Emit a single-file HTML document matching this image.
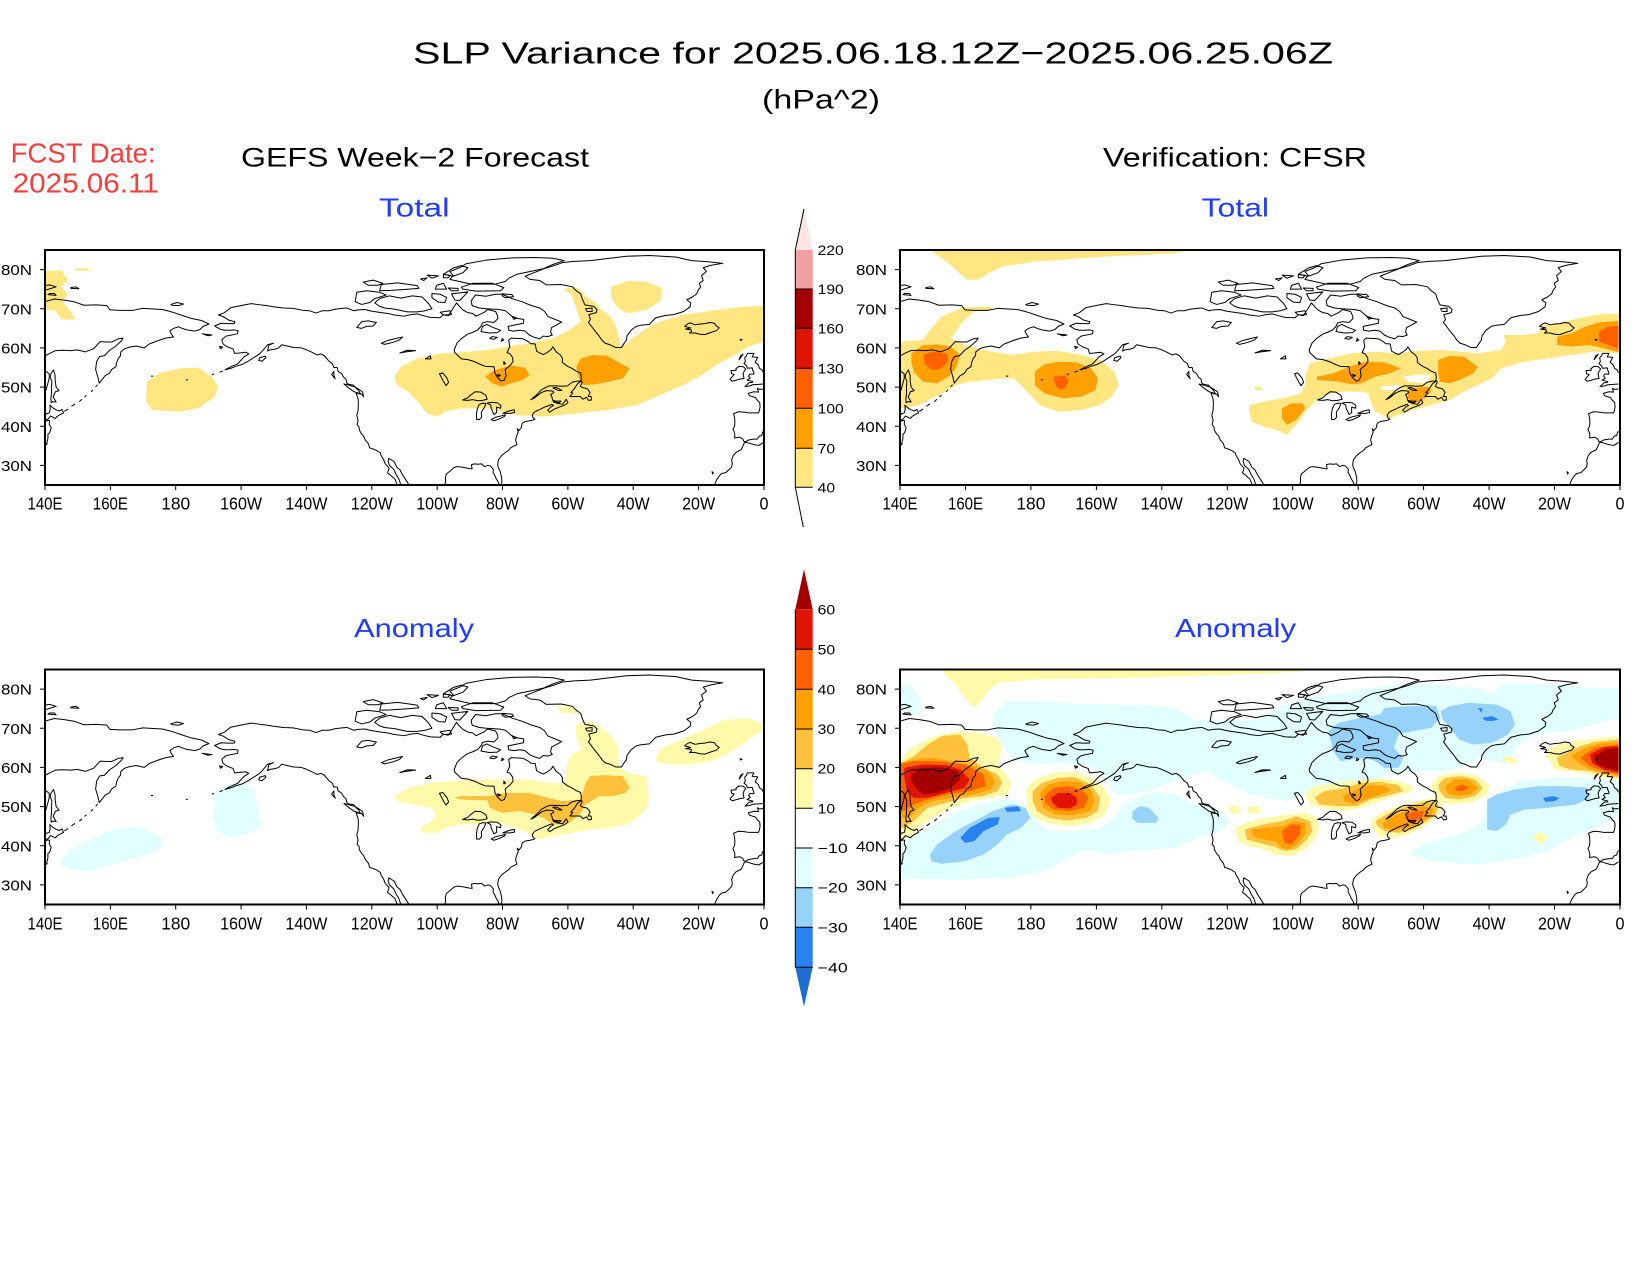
<!DOCTYPE html>
<html><head><meta charset="utf-8"><style>
html,body{margin:0;padding:0;background:#fff;}
svg{display:block;}
text{font-family:"Liberation Sans",sans-serif;}
</style></head><body>
<svg width="1650" height="1275" viewBox="0 0 1650 1275" xmlns="http://www.w3.org/2000/svg">
<defs>
<clipPath id="mc"><rect x="10" y="15" width="1542" height="705"/></clipPath>
<g id="coast" transform="translate(10,15) scale(7.009,-11.75) translate(-140,-85)" fill="none" stroke="#000" stroke-width="1" stroke-linejoin="round">
<path vector-effect="non-scaling-stroke" d="M140,71.8 L143,72.5 146,72.2 149,71.8 152,70.9 156,71 159,70.8 160,69.7 163,69.6 167,69.6 170,70.1 174,69.9 176,69.8 178,69.4 180,68.9 182,68.3 185,67.5 188,67 190.3,66.1 188.5,65.5 187.5,64.7 186,64.3 183.5,64.6 182,65 181,65.4 179.5,65 178.3,64.3 178.8,63.5 179.4,62.8 177,62.5 174.5,61.8 172,61 170.5,60 168,60.5 166,60.2 164.5,59.8 163.3,59 163.2,58 162.5,57.3 162,56.2 161.8,55.2 160.5,54.5 159.8,53.5 158.5,52.9 156.7,51 156.3,52.5 155.6,54.5 155.9,56.5 156.8,57.8 158.3,58 160,59.5 161.5,60.3 163.5,61.8 164,62.5 162.5,62.3 160.5,61.5 159,61.5 157,61.6 155,59.8 152.5,59 150,59.5 148,59.3 145.5,59.4 143.3,59.3 141.5,58.6 140,57.9"/>
<path vector-effect="non-scaling-stroke" d="M140,48.4 L140.5,49.5 141,51 141.4,52.3 141.4,53.3 140.8,53.8 140,54.2"/>
<path vector-effect="non-scaling-stroke" d="M142.7,54.4 L143.2,53 143.2,51.8 143.5,50 144.4,49.1 143.3,48.8 142.6,47.5 143.5,46.2 142.5,46.3 142,46 141.9,47 142.1,48.5 142.1,50 142.2,51.5 141.7,52.5 141.9,53.4 Z"/>
<path vector-effect="non-scaling-stroke" d="M141.6,45.4 L142.5,44.7 143.5,44.2 144.5,43.9 145.3,44.3 145.8,43.4 145,43.1 143.8,42.5 143.3,42 141.8,42.6 141,41.8 140.1,41.5 140,42.3 140.5,43.2 141.4,43.4 141.7,44.3 Z"/>
<path vector-effect="non-scaling-stroke" d="M140,40.6 L140.3,41.2 140.9,41.5 141.5,41.4 141.4,40.5 142,39.6 141.5,38.3 141,38 141,37 140.9,36.5 140.6,35.7 140.8,35.5 140.1,35 140,35"/>
<path vector-effect="non-scaling-stroke" d="M146,43.8 L147.2,44.4 M148.2,45.1 L149.3,45.7 M150.6,46.3 L151.4,46.9 M152.2,47.5 L152.8,47.9 M154.2,48.8 L154.8,49.3 M155.6,50.1 L156.2,50.6 M172.5,52.8 L173.2,52.8"/>
<path vector-effect="non-scaling-stroke" d="M140,75.9 L141.5,76.1 143.5,75.6 142,75.2 140.5,74.8 140,74.9 M141,73.6 L143.5,73.4 143,73.9 141.5,73.9 Z M148,75.2 L150.5,75.1 149.5,75.6 148,75.4 Z M178.6,71.1 L180.5,71.6 182.5,71.2 181,70.8 179,70.9 Z"/>
<g transform="translate(360,0)">
<path vector-effect="non-scaling-stroke" d="M-112.1,25 L-112.8,26.5 -114.3,27.6 -115.1,28.1 -114.6,29.3 -115.8,30.4 -116.3,31.5 -117.1,32.6 -117.3,33.2 -118.4,33.8 -119.2,34.1 -120.6,34.5 -120.9,35.5 -121.9,36.5 -122.4,37.5 -123,38 -123.7,39 -123.8,39.8 -124.4,40.4 -124.1,41.5 -124.5,42.8 -124.1,44 -124,46 -124.1,47 -124.7,48.4 -123,48.2 -122.4,47.5 -122.7,48.7 -123.1,49 -124,49.5 -125,50 -125.5,50.5 -127,50.7 -127.5,51 -127.8,52 -128.5,52.5 -129.2,53.5 -130.2,54 -130.5,55 -131.5,55 -132,56 -133,56.6 -134.4,58 -135.5,58.5 -136.6,58.2 -138.5,59 -140.4,59.7 -141.5,60 -143.8,60.1 -145.8,60.5 -147.5,60.8 -148.4,60 -149.5,59.7 -151,59.5 -151.8,59.2 -151.4,60.7 -150,61.2 -151.8,60.8 -153.3,59.3 -154.2,58.5 -155.5,57.8 -157.5,56.7 -159.5,55.8 -161.5,55.3 -163,54.8 -164.8,54.4 -163,55.2 -161,55.9 -159,57.7 -157.5,58.5 -158.5,58.9 -160.5,58.7 -161.9,58.6 -162.3,59.7 -164.1,60.3 -165.4,61 -165.8,62.1 -164.5,63 -161,63.6 -160.8,64.4 -162,64.6 -163.5,64.5 -165,64.5 -166.4,64.8 -168,65.6 -166,66.3 -164,66.2 -162,66.2 -161.8,66.7 -163.7,67.1 -165.4,68 -166.8,68.4 -165,69 -163,70.3 -160,70.8 -156.8,71.3 -155,71.1 -152,70.8 -150,70.5 -147,70.2 -144,70.1 -141,69.6 -139,69.5 -137,68.9 -135,69.5 -133,69.5 -131,69.9 -129,70.1 -127.5,70.2 -125.5,69.5 -124,69.7 -122,69.8 -120,69.4 -117,69 -115,68.8 -113,68.4 -110,68.1 -108,68.5 -106,68.7 -104,68.2 -102,67.8 -99,67.7 -98,68.5 -96.5,68.2 -95.5,69.5 -94,71.5 -93,70.5 -92,69.7 -90.5,69 -89,68.8 -88,68.1 -85.5,69.1 -84.5,69.8 -82,69.3 -81.4,68.2 -81.3,67.5 -82.5,66.5 -84.5,66.7 -86,66.4 -86.5,65.5 -87.5,64.6 -89,64 -90.6,63.5 -92.3,62.5 -93.8,61.3 -94.7,59.5 -94.5,58.8 -92.5,57.2 -90.5,57 -88.5,56.5 -87,55.9 -85.2,55.3 -82.5,55.2 -82.2,53.5 -81.5,52.5 -80.3,51.5 -79.4,51.8 -78.8,52.9 -79.1,54.5 -77.5,55.6 -76.7,56.5 -76.8,57.5 -77.6,58.5 -78.5,58.8 -77.7,60.3 -78,62 -77.3,62.5 -75,62.4 -73.5,62.3 -72,61.6 -71.3,61.1 -69.9,61 -69.5,59.2 -68.5,58.7 -67.4,58.3 -66.3,58.8 -65,59.6 -64.5,60.3 -63.5,59 -62.2,58.2 -61.6,57.4 -61.6,56.3 -60,55.3 -58.7,54.8 -57.4,54.1 -56,53.6 -55.8,52.5 -55.9,51.6 -57.3,51.5 -58.7,51.2 -60,50.3 -61.8,50.2 -63.5,50.3 -65.5,50.3 -66.5,50 -68,49.3 -69.5,48 -70.5,47.3 -71.2,46.8 -70.2,47.2 -69.3,47.8 -68,48.6 -66.5,49.1 -64.5,49 -64.2,48.6 -65.2,48.1 -64.8,47.5 -64.6,46.8 -64.3,46.2 -63,45.8 -61.5,45.6 -60.4,46.9 -59.9,46 -60.9,45.4 -62.5,44.9 -64,44.4 -65.5,43.6 -66.1,44.1 -65,45 -64.3,45.3 -64.8,45.6 -66,45.2 -67,44.9 -68.5,44.3 -69.8,43.8 -70.3,43.5 -70.8,42.8 -70.6,42.2 -70,41.8 -70.5,41.6 -71.5,41.4 -72.9,41.2 -73.8,40.8 -74,40.4 -74.1,39.7 -74.9,38.9 -75.4,39.4 -75.1,38.5 -75.6,37.5 -75.9,36.5 -75.5,35.3 -76.5,34.9 -77.4,34.5 -78,33.9 -79.2,33.2 -80.3,32.4 -81.1,31.5 -81.4,30.3 -81.2,29.5 -80.6,28.4 -80.2,27 -80.1,25.8 -80.4,25.1 -81,25.2 -81.3,25.9 -81.8,26.5 -82.3,27.5 -82.8,28.2 -82.7,29 -83.7,29.9 -84.4,30 -85.4,29.7 -86.3,30.4 -87.5,30.3 -88.4,30.4 -89.4,30.2 -89.3,29.5 -89.2,29.1 -90.2,29.2 -91.3,29.4 -92.6,29.6 -93.8,29.7 -94.8,29.4 -95.9,28.6 -97.1,27.8 -97.4,26.8 -97.3,25.8 -97.6,25"/>
<path vector-effect="non-scaling-stroke" d="M-108.5,25 L-109.4,26.2 -110.5,27.6 -111.3,28.9 -112.2,29.5 -113.1,31 -114.7,31.8 -114.9,31 -114.5,30 -113.2,29 -112.4,27.6 -111.6,26.5 -111,25"/>
<path vector-effect="non-scaling-stroke" d="M-165.5,54.1 L-166.5,53.8 M-168.9,53.1 L-168.2,53.4 M-176.8,51.8 L-176.2,51.9"/>
<path vector-effect="non-scaling-stroke" d="M-59.3,47.6 L-58.4,48.5 -59,48.6 -57.9,49.6 -57,50.8 -55.8,51.6 -55.5,51.3 -56.1,50.2 -55.5,49.9 -54,49.6 -53.6,49.2 -53.1,48.6 -53.7,47.6 -52.8,47.6 -52.7,46.7 -53.6,46.6 -54.2,47.4 -55.3,46.9 -56.1,47.6 Z M-64.5,49.8 L-63.5,49.9 -62.2,49.4 -61.7,49.1 -63,49.2 Z M-64.4,46.6 L-63.5,46.4 -62,46.4 -62.5,46 -63.8,46.2 Z"/>
<path vector-effect="non-scaling-stroke" d="M-123.4,48.3 L-125.3,48.8 -127.5,50.1 -128.4,50.8 -127,50.5 -125,50 -123.9,49.1 Z M-131.5,54 L-132.2,53.2 -131.1,52.1 -131.5,53 Z M-152.5,57.9 L-154.2,57.5 -154.5,56.8 -153.5,56.6 -152.3,57.5 Z M-171.8,63.6 L-168.8,63.3 -170,63.1 Z M-166.5,60.4 L-165.5,60.2 -166.2,59.8 Z"/>
<path vector-effect="non-scaling-stroke" d="M-80,73.7 L-77,72.6 -74,71.8 -71,70.8 -68.5,70.2 -67,69.3 -66,68 -63,67 -61.8,66.6 -63.5,65.8 -64.9,65.2 -65.2,64 -64.7,63.3 -66,62.9 -67.5,63 -68.5,62.3 -70.5,62.8 -71.7,63.3 -73,64.3 -74.5,64.5 -76.5,64.3 -78,64.5 -78.2,65.5 -73.5,66.3 -73.4,67.3 -76,67.6 -77.4,68.3 -79,69.5 -81,69.8 -84.8,70 -87,70.2 -89.2,70.8 -89.5,72 -88.2,73.5 -85,73.2 -82,73.7 Z"/>
<path vector-effect="non-scaling-stroke" d="M-86.5,64.2 L-84,63.8 -81.5,63.9 -80.5,64.5 -83,65.3 -84.7,66 -86,65.5 Z M-83,62.9 L-81.5,62.7 -82.5,62.2 -83.8,62.4 Z M-80,62.4 L-79.5,62 -80.3,61.7 Z M-79.5,56.5 L-79,56 -79.5,55.8 Z M-81.5,53.2 L-80.5,53 -81,52.7 Z M-77,68.1 L-75.5,67.6 -76.5,67.3 Z"/>
<path vector-effect="non-scaling-stroke" d="M-119,71.5 L-117.5,72.6 -114.5,73.3 -111,72.7 -107.5,73.3 -104.5,73 -102.5,71.3 -101.5,70 -103.5,69.5 -106,69.2 -109,69.2 -113,69.9 -116,70.2 -117.5,70.6 Z M-125,71.8 L-124.5,74.2 -121.5,74.6 -117.5,74.2 -115.5,73.5 -119,72.6 -120.5,71.6 -123,71.1 Z"/>
<path vector-effect="non-scaling-stroke" d="M-101.5,73.9 L-99,73.7 -97,72.9 -97.5,71.6 -99.5,71.7 -101.5,72.8 Z M-95.5,73.8 L-90.5,74.3 -93,72.1 -94.5,72.2 Z M-99,69.1 L-96,69.5 -95.5,68.5 -98,68.4 Z M-80,73.8 L-77,73.6 -76.5,73.1 -79,72.8 -80,73.3 Z"/>
<path vector-effect="non-scaling-stroke" d="M-92.5,75.5 L-89,76.5 -83,76.5 -79.5,75.4 -80.5,74.6 -88,74.5 -92,75 Z M-96,77.5 L-89.5,76.3 -82,76.3 -79,77 -78,77.8 -75.5,78.8 -72.7,79.3 -67.5,80.2 -64.5,81.3 -61,82.3 -64.5,82.9 -70,83.1 -77,83 -85,82.4 -91,81.5 -93,80.5 -96,79.5 -95,78.5 Z M-98,78.8 L-95,80.4 -92.5,81 -90.5,80.5 -92,79.2 -95,78.3 Z"/>
<path vector-effect="non-scaling-stroke" d="M-117,76.2 L-112,76.6 -106,75.9 -105.5,75.2 -110,74.9 -114,74.7 -117.5,74.6 Z M-100,76 L-98,76.5 -97,75 -100.5,75 Z M-103,78.6 L-99.5,78.4 -101.5,77.8 Z M-122.5,76.8 L-119.5,77.3 -116.5,76.5 -118,76 -121,76 Z M-96.5,75.3 L-93.5,75.2 -93.5,74.6 -95.5,74.6 Z M-98,78.7 L-96,78.6 -96.5,77.9 -98,77.9 Z M-105,77.6 L-103,77.9 -104,77.2 Z"/>
<path vector-effect="non-scaling-stroke" d="M-73,78.3 L-71.5,77.5 -68.5,77.2 -66.5,76.1 -62,76.2 -58.5,75.6 -57.5,74.7 -56,73.8 -55.5,72.5 -54.7,71 -52,70.6 -51,69.8 -51.2,69 -53.5,68.5 -53,67.3 -53.6,66.5 -52.5,65.3 -51.5,64.2 -50.5,63.2 -49.5,62 -48.5,61.2 -47,60.8 -45.2,60.1 -43.5,60.1 -43,60.8 -42,62 -41.8,63.1 -40.6,64.5 -39,65.5 -37.5,65.8 -35,66 -33,67.7 -30,68.3 -27.5,68.5 -24.5,69.3 -22.5,70.5 -22.3,71.5 -23.5,72.3 -21.8,73 -20.5,73.8 -20,74.8 -19.3,75.5 -19.7,76.5 -18.5,77.2 -19,78.5 -17.5,79.5 -18.5,80.5 -16,81.1 -12.5,81.6 -17,82 -22,82.3 -27,83.2 -35,83.6 -42,83.4 -48,82.8 -53,82.3 -58,82.1 -61.5,81.8 -64.5,80.9 -67,80.3 -70,79.3 Z M-54.5,70 L-52.5,70.2 -52.5,69.3 -54,69.3 Z"/>
<path vector-effect="non-scaling-stroke" d="M-24.2,65.5 L-23.3,66.1 -22.5,66.4 -21,65.9 -19.5,66.1 -18,66.2 -16.5,66.5 -15,66.3 -14.6,65.7 -13.6,65.1 -14.5,64.4 -16,64 -18,63.4 -19.5,63.5 -21,63.8 -22.7,63.8 -22,64.3 -22.2,64.6 -23.9,64.8 -22.3,65.1 Z"/>
<path vector-effect="non-scaling-stroke" d="M0,50.8 L-1.5,50.7 -3.4,50.6 -4.2,50.3 -5.7,50.1 -4.5,51.1 -3.5,51.2 -3.3,51.4 -4.2,51.6 -5.1,51.8 -4.1,52.3 -4.6,52.8 -4.3,53.3 -3,53.3 -3,53.8 -3.3,54.2 -3.5,54.9 -5,54.8 -5.2,55.4 -6,56 -5.6,56.5 -5.8,57.5 -5.2,58 -5,58.6 -3,58.6 -3.5,57.7 -1.8,57.6 -2,57.3 -2.6,56.3 -2.1,56 -1.6,55.6 -1.3,54.8 -0.5,54.4 0,53.6"/>
<path vector-effect="non-scaling-stroke" d="M-6,52.2 L-6.3,53.4 -6,54 -5.5,54.6 -6.2,55.2 -7.5,55.3 -8.5,54.7 -8.4,54.3 -10,54.2 -9.8,53.4 -9,53.2 -9.8,52.5 -10.3,51.9 -9.6,51.5 -8.2,51.8 -7,52.1 Z M-7.5,57 L-6.3,58.4 -7,58 -7.4,57.3 Z M-7.2,62.2 L-6.6,62.1 -7,61.9 Z"/>
<path vector-effect="non-scaling-stroke" d="M0,49.5 L-1.2,49.4 -1.9,49.7 -1.6,48.7 -3,48.8 -4.7,48.4 -4.3,47.8 -2.5,47.3 -2.1,46.8 -1.2,46 -1.1,45 -1.3,44 -1.6,43.4 -3,43.4 -4.5,43.4 -6,43.6 -7.7,43.7 -9.2,43.2 -8.9,42.2 -8.8,41.2 -8.9,40 -9.4,39.3 -9.1,38.7 -8.8,37.9 -8.9,37 -7.4,37.2 -6.4,36.8 -6.1,36.2 -5.6,36 -4.6,36.5 -3,36.7 -2,36.7 -1.3,37.5 -0.6,37.6 -0.4,38.3 0,38.8"/>
<path vector-effect="non-scaling-stroke" d="M0,35.9 L-1.5,35.1 -3,35.3 -5.3,35.9 -5.9,35.8 -6.3,35 -6.9,34 -8.5,33.3 -9.3,32.5 -9.8,31.3 -9.6,30.5 -9.8,29.6 -10.5,29 -11.5,28.2 -12.9,27.9 -13.5,27.4 -14.4,26.3 -14.8,25.5 -15,25 M-15.8,28.4 L-15.4,28.1 -15.6,27.8 Z"/>
<path vector-effect="non-scaling-stroke" d="M-92.1,46.7 L-90.5,47.3 -89.6,48 -88.3,48.8 -86.5,48.7 -85,47.9 -84.6,46.9 -86,46.6 -87.5,46.5 -89,46.8 -90.5,46.6 Z M-87.8,41.7 L-87.9,43 -87.6,44.5 -87,45.6 -85.9,45.9 -85,45.8 -85.5,44.7 -86.4,43.6 -86.3,42.3 -87,41.7 Z M-84.6,45.9 L-83.5,46.1 -81.5,46 -80.4,45.3 -80.5,44.6 -81.7,44.9 -81.7,43.5 -82.5,43 -83,43.9 -83.4,44.6 -83.5,45.4 Z M-83.4,41.7 L-82,42.3 -80.5,42.6 -79,42.9 -79.3,42.5 -80.8,41.9 -82.5,41.4 Z M-79.8,43.3 L-78,43.9 -76.3,44.2 -76.2,43.5 -77.5,43.3 Z"/>
<path vector-effect="non-scaling-stroke" d="M-97.2,50.4 L-96.4,51.2 -96.9,52.3 -98.2,53.6 -99.2,53.4 -98.5,52.3 -97.8,51.2 Z M-124.5,65.2 L-123,66.7 -121,66.9 -118.5,66.5 -119.5,65.6 -121.5,65.5 -123,65 Z M-117,61.2 L-115,61.9 -113,62.3 -110.5,62.8 -111.5,62 -113.5,61.4 -116,60.9 Z M-111.3,58.7 L-109,59.4 -106.5,59.3 -109.5,59 Z M-103.5,57.2 L-102,58 -101.8,57.2 Z"/>
</g>
</g>
</defs>

<!-- Titles -->
<text x="413" y="63.3" font-size="31" textLength="920" lengthAdjust="spacingAndGlyphs" fill="#000">SLP Variance for 2025.06.18.12Z−2025.06.25.06Z</text>
<text x="762" y="108.5" font-size="27" textLength="118" lengthAdjust="spacingAndGlyphs" fill="#000">(hPa^2)</text>
<text x="10.6" y="162.7" font-size="28" textLength="145" lengthAdjust="spacingAndGlyphs" fill="#fa3c3c">FCST Date:</text>
<text x="12.7" y="192.7" font-size="28" textLength="146" lengthAdjust="spacingAndGlyphs" fill="#fa3c3c">2025.06.11</text>
<text x="241" y="166.7" font-size="27" textLength="348" lengthAdjust="spacingAndGlyphs" fill="#000">GEFS Week−2 Forecast</text>
<text x="1103" y="166.7" font-size="27" textLength="264" lengthAdjust="spacingAndGlyphs" fill="#000">Verification: CFSR</text>
<text x="379" y="216.7" font-size="26" textLength="70.5" lengthAdjust="spacingAndGlyphs" fill="#1e3cff">Total</text>
<text x="1201.5" y="216.7" font-size="26" textLength="67.5" lengthAdjust="spacingAndGlyphs" fill="#1e3cff">Total</text>
<text x="354" y="637" font-size="26" textLength="120" lengthAdjust="spacingAndGlyphs" fill="#1e3cff">Anomaly</text>
<text x="1175" y="637" font-size="26" textLength="121" lengthAdjust="spacingAndGlyphs" fill="#1e3cff">Anomaly</text>

<!-- TOP LEFT MAP -->
<g transform="translate(40,245) scale(0.46628,0.33333)">
<g clip-path="url(#mc)">
<g fill="#ffe680">
<polygon points="10,77 46,77 60,105 46,125 60,150 46,165 60,190 77,223 46,223 32,195 10,195"/>
<polygon points="75,70 105,70 105,77 75,77"/>
<polygon points="230,410 255,385 300,370 340,368 368,395 382,425 375,455 340,490 300,500 240,495 228,470 228,440"/>
<polygon points="760,395 775,365 810,340 860,325 900,322 960,315 1000,305 1050,295 1100,280 1130,260 1160,230 1150,190 1140,150 1122,132 1150,126 1162,140 1175,160 1190,170 1200,190 1220,210 1235,240 1240,270 1245,300 1255,300 1270,280 1300,250 1330,230 1380,210 1450,195 1510,185 1552,183 1552,290 1520,305 1490,330 1450,360 1420,390 1380,420 1330,450 1280,480 1220,495 1150,505 1080,515 1020,510 960,490 900,490 870,500 850,515 830,505 810,470 790,440 765,420"/>
<polygon points="1225,125 1260,108 1300,110 1335,130 1330,170 1300,195 1260,205 1240,190 1225,160"/>
</g>
<g fill="#ffa000">
<polygon points="955,395 975,375 1010,362 1040,368 1050,390 1035,405 1010,415 990,425 970,415"/>
<polygon points="1150,365 1160,340 1185,330 1215,332 1245,355 1265,370 1250,400 1220,410 1190,418 1165,420 1155,395"/>
</g>
<use href="#coast"/>
</g>
</g>

<!-- TOP RIGHT MAP -->
<g transform="translate(895,245) scale(0.46628,0.33333)">
<g clip-path="url(#mc)">
<g fill="#ffe680">
<polygon points="75,15 640,15 600,25 450,35 300,50 230,65 200,85 180,103 155,105 135,80 110,50"/>
<polygon points="10,290 60,285 75,255 100,215 145,188 205,185 210,195 170,200 145,230 120,280 150,300 190,315 250,330 300,320 350,318 400,330 440,345 470,380 480,420 465,455 440,480 400,495 350,500 310,480 290,450 270,420 255,400 230,400 200,405 160,410 130,420 110,440 80,460 50,480 20,490 10,490"/>
<polygon points="760,480 790,470 830,460 870,445 880,420 880,390 890,355 930,340 980,325 1030,320 1080,325 1120,318 1170,315 1200,318 1250,325 1300,315 1310,290 1305,270 1350,270 1380,265 1390,240 1420,235 1460,222 1500,210 1552,205 1552,325 1500,320 1450,330 1400,340 1350,350 1300,370 1280,400 1250,420 1220,440 1190,465 1150,480 1110,495 1080,510 1060,520 1030,500 1020,470 1015,445 1000,440 960,440 920,450 900,470 880,500 860,540 840,570 820,555 790,545 765,530 760,500"/>
<polygon points="772,425 785,425 785,435 772,435"/>
</g>
<g fill="#ffffff">
<polygon points="1090,395 1120,388 1150,390 1140,415 1100,410"/>
<polygon points="1040,425 1080,420 1085,435 1045,435"/>
</g>
<g fill="#ffa000">
<polygon points="35,325 60,300 90,298 120,305 140,330 130,370 115,395 90,415 60,410 40,380 35,350"/>
<polygon points="300,380 320,358 350,350 390,352 420,370 435,400 430,435 400,455 360,460 320,445 300,420"/>
<polygon points="905,395 940,385 975,365 1010,350 1050,352 1085,370 1060,385 1030,395 1000,415 980,418 950,410 905,405"/>
<polygon points="830,490 850,475 875,475 880,490 860,525 840,540 830,520"/>
<polygon points="1100,435 1120,428 1145,425 1150,440 1135,460 1115,475 1100,460"/>
<polygon points="1165,345 1190,333 1220,335 1250,365 1240,385 1210,405 1190,415 1168,410 1165,380"/>
<polygon points="1420,275 1450,265 1480,245 1510,232 1552,228 1552,322 1520,310 1490,300 1450,305 1420,300"/>
</g>
<g fill="#ff6000">
<polygon points="60,330 80,320 110,325 115,345 100,370 80,375 65,360"/>
<polygon points="340,395 365,392 372,405 365,430 350,432 343,415"/>
<polygon points="1510,260 1530,245 1552,242 1552,312 1530,300 1510,290"/>
</g>
<use href="#coast"/>
</g>
</g>

<!-- BOTTOM LEFT MAP -->
<g transform="translate(40,664.5) scale(0.46628,0.33333)">
<g clip-path="url(#mc)">
<g fill="#e1ffff">
<polygon points="45,590 60,560 100,530 140,505 185,485 215,490 262,520 262,550 230,570 180,590 140,605 100,620 60,615 45,600"/>
<polygon points="375,385 395,360 440,357 460,375 465,420 475,485 450,505 410,520 380,500 370,460 375,420"/>
</g>
<g fill="#fffaaa">
<polygon points="760,395 790,370 840,355 880,350 930,345 1000,345 1050,345 1090,355 1125,355 1130,300 1140,270 1160,255 1150,215 1150,180 1175,170 1200,185 1225,215 1240,250 1240,285 1245,310 1260,325 1300,335 1305,380 1305,420 1290,450 1260,480 1220,490 1180,495 1140,505 1100,515 1065,525 1040,500 1000,480 960,475 930,480 900,480 870,490 850,505 820,505 815,490 840,470 850,450 840,430 800,420 765,410"/>
<polygon points="1105,130 1130,125 1150,135 1155,148 1120,145"/>
<polygon points="1320,285 1330,255 1360,235 1400,210 1440,185 1470,165 1520,162 1552,180 1552,195 1530,215 1500,245 1470,270 1440,290 1400,300 1360,300 1325,295"/>
</g>
<g fill="#ffc13c">
<polygon points="890,400 900,395 960,395 1000,385 1050,385 1090,400 1120,410 1160,405 1170,355 1180,335 1210,332 1250,335 1265,370 1255,385 1230,395 1200,395 1170,420 1160,445 1140,470 1120,480 1100,480 1080,460 1060,450 1030,440 990,445 965,430 960,408 900,405"/>
</g>
<use href="#coast"/>
</g>
</g>

<!-- BOTTOM RIGHT MAP -->
<g transform="translate(895,664.5) scale(0.46628,0.33333)">
<g clip-path="url(#mc)">
<g fill="#e1ffff">
<polygon points="10,60 35,60 55,100 50,150 10,150"/>
<polygon points="210,150 240,110 320,110 400,118 520,120 600,130 640,165 700,165 760,170 820,130 880,100 940,90 1000,75 1080,60 1150,60 1250,70 1280,90 1300,60 1400,60 1500,70 1552,70 1552,160 1500,180 1450,200 1400,205 1360,220 1330,250 1320,290 1310,300 1280,290 1250,280 1230,295 1200,315 1150,320 1100,320 1060,330 1020,345 980,350 940,355 900,370 880,385 860,400 840,410 800,400 760,390 720,360 690,340 670,320 640,330 600,350 560,370 540,380 500,390 470,390 460,350 440,320 400,300 350,295 300,300 260,290 240,260 220,220 210,180"/>
<polygon points="10,640 10,540 60,500 120,450 180,420 250,400 290,440 310,480 330,500 400,500 440,490 470,460 490,420 520,400 560,380 600,390 640,420 700,440 720,470 700,500 650,520 600,550 500,560 450,570 420,555 400,560 360,590 320,620 250,640 150,645 60,645"/>
<polygon points="1100,570 1130,540 1180,520 1230,500 1260,470 1270,420 1300,380 1340,350 1400,340 1480,340 1552,350 1552,460 1500,490 1450,520 1400,560 1350,580 1300,590 1250,600 1150,590"/>
</g>
<g fill="#fffaaa">
<polygon points="100,15 870,15 870,22 700,32 500,40 300,45 220,55 200,80 190,100 170,130 150,100 130,60 110,35"/>
</g>
<g fill="#96d2fa">
<polygon points="75,570 90,540 130,500 170,470 210,440 250,420 280,430 290,460 270,490 240,510 220,540 190,570 150,590 100,598 78,590"/>
<polygon points="510,440 525,425 545,430 565,460 560,475 520,475 508,460"/>
<polygon points="930,200 950,175 1000,160 1040,150 1050,130 1100,125 1160,125 1170,160 1150,190 1110,200 1080,210 1070,250 1090,280 1080,310 1050,310 1030,290 1010,280 980,285 955,290 940,260 935,230"/>
<polygon points="1170,140 1190,125 1230,115 1290,120 1320,140 1330,180 1315,210 1280,235 1240,240 1210,225 1190,190 1175,165"/>
<polygon points="1270,405 1290,390 1330,375 1380,365 1440,365 1485,370 1490,400 1460,420 1400,430 1350,435 1320,450 1310,480 1290,500 1270,495 1270,450"/>
</g>
<g fill="#2882f0">
<polygon points="140,520 160,490 200,460 225,458 220,480 190,500 170,530 150,535"/>
<polygon points="235,430 265,425 270,440 240,442"/>
<polygon points="1260,160 1280,155 1295,165 1280,170 1265,168"/>
<polygon points="1250,130 1260,132 1258,145"/>
<polygon points="1390,400 1410,395 1425,400 1415,410 1395,412"/>
</g>
<g fill="#fffaaa">
<polygon points="10,290 30,255 70,225 100,210 140,200 180,205 220,220 230,250 220,300 240,330 250,360 240,390 200,400 160,410 120,430 80,460 50,490 30,520 10,520"/>
<polygon points="280,375 300,345 340,325 380,320 420,340 450,370 462,410 450,450 420,475 380,485 340,480 300,460 285,430"/>
<polygon points="730,490 760,470 800,460 840,450 880,445 905,460 910,490 900,525 880,555 850,575 815,570 790,555 760,545 735,530"/>
<polygon points="880,385 900,365 950,355 1000,345 1040,342 1080,350 1110,365 1105,385 1070,395 1030,415 1000,430 960,440 920,430 890,420"/>
<polygon points="710,430 735,422 745,440 725,450"/>
<polygon points="755,428 780,425 785,445 760,448"/>
<polygon points="1020,470 1040,445 1080,425 1120,410 1150,400 1170,410 1175,430 1160,460 1130,490 1100,510 1070,520 1040,515 1025,495"/>
<polygon points="1150,360 1165,335 1200,325 1245,330 1275,360 1270,390 1245,410 1200,420 1165,410 1155,385"/>
<polygon points="1395,260 1420,240 1460,230 1500,222 1552,215 1552,345 1520,340 1480,325 1440,320 1415,315 1405,290 1395,275"/>
<polygon points="1300,280 1320,275 1335,290 1320,300"/>
<polygon points="1365,515 1385,502 1400,520 1385,540"/>
</g>
<g fill="#ffc13c">
<polygon points="10,300 40,275 70,240 100,215 140,210 155,240 160,280 190,310 220,330 230,355 220,380 190,395 150,400 110,415 70,430 40,470 20,490 10,490"/>
<polygon points="295,380 315,355 350,340 385,338 420,360 440,400 435,440 410,460 370,468 330,460 305,440 295,410"/>
<polygon points="750,495 790,480 830,470 860,455 890,470 895,500 880,530 860,555 835,560 810,545 780,535 755,525"/>
<polygon points="900,400 920,380 960,372 1000,355 1040,352 1080,362 1090,380 1060,392 1020,405 990,425 950,425 910,420"/>
<polygon points="1030,470 1060,445 1100,425 1140,410 1165,420 1160,450 1135,475 1110,495 1080,505 1050,500 1035,485"/>
<polygon points="1165,360 1180,340 1215,335 1245,345 1260,370 1245,395 1210,405 1180,400 1168,380"/>
<polygon points="1420,280 1440,265 1470,245 1500,232 1552,225 1552,340 1520,330 1490,320 1450,315 1425,305"/>
</g>
<g fill="#ffa000">
<polygon points="10,295 40,285 80,280 120,290 160,300 200,320 215,350 205,375 170,390 120,400 80,410 50,430 30,460 10,460"/>
<polygon points="310,385 330,360 360,350 395,352 420,375 428,410 418,440 385,452 345,450 318,430"/>
<polygon points="765,495 800,490 830,485 855,470 880,475 880,505 865,535 845,555 830,550 815,530 790,525 768,515"/>
<polygon points="960,395 990,375 1020,362 1050,365 1065,378 1040,390 1010,405 985,418 965,410"/>
<polygon points="1045,475 1070,455 1100,435 1130,425 1155,430 1150,455 1125,475 1100,490 1070,495 1050,490"/>
<polygon points="1180,365 1200,345 1230,345 1250,370 1235,390 1205,395 1185,385"/>
<polygon points="1450,275 1480,250 1510,237 1552,232 1552,335 1520,325 1490,315 1470,300"/>
</g>
<g fill="#ff6000">
<polygon points="10,300 40,290 90,290 150,300 190,330 195,365 160,380 110,390 70,405 40,420 20,440 10,440"/>
<polygon points="320,395 340,370 370,365 400,375 415,400 405,430 375,440 340,435 322,415"/>
<polygon points="830,500 850,480 870,482 868,510 850,540 835,535"/>
<polygon points="1095,450 1115,440 1135,440 1130,460 1110,470 1095,465"/>
<polygon points="1200,370 1215,360 1230,368 1220,380 1205,380"/>
<polygon points="1470,280 1500,250 1552,240 1552,330 1520,320 1490,305"/>
</g>
<g fill="#e11400">
<polygon points="20,310 60,300 110,302 140,315 160,345 150,370 110,385 70,400 40,400 25,380 20,340"/>
<polygon points="335,400 350,385 375,385 390,400 390,420 375,432 350,430 338,415"/>
<polygon points="1490,270 1520,248 1552,245 1552,325 1520,315 1495,295"/>
</g>
<g fill="#a50000">
<polygon points="35,330 55,310 100,308 135,320 140,345 120,370 90,385 60,390 45,370 35,350"/>
<polygon points="1500,275 1525,255 1552,250 1552,320 1525,310 1505,300"/>
</g>
<use href="#coast"/>
</g>
</g>

<!-- Frames -->
<g fill="none" stroke="#000" stroke-width="2">
<rect x="45" y="250" width="719" height="235"/>
<rect x="900" y="250" width="720" height="235"/>
<rect x="45" y="669.5" width="719" height="235"/>
<rect x="900" y="669.5" width="720" height="235"/>
</g>

<!-- Ticks -->
<g stroke="#000" stroke-width="1">
<path d="M40,269.6H45M40,308.8H45M40,347.9H45M40,387.1H45M40,426.3H45M40,465.4H45"/>
<path d="M895,269.6H900M895,308.8H900M895,347.9H900M895,387.1H900M895,426.3H900M895,465.4H900"/>
<path d="M40,689.1H45M40,728.3H45M40,767.4H45M40,806.6H45M40,845.8H45M40,884.9H45"/>
<path d="M895,689.1H900M895,728.3H900M895,767.4H900M895,806.6H900M895,845.8H900M895,884.9H900"/>
<path d="M45,485V490M110.4,485V490M175.7,485V490M241.1,485V490M306.4,485V490M371.8,485V490M437.2,485V490M502.5,485V490M567.9,485V490M633.2,485V490M698.6,485V490M764,485V490"/>
<path d="M900,485V490M965.5,485V490M1030.9,485V490M1096.4,485V490M1161.8,485V490M1227.3,485V490M1292.7,485V490M1358.2,485V490M1423.6,485V490M1489.1,485V490M1554.5,485V490M1620,485V490"/>
<path d="M45,904.5V909.5M110.4,904.5V909.5M175.7,904.5V909.5M241.1,904.5V909.5M306.4,904.5V909.5M371.8,904.5V909.5M437.2,904.5V909.5M502.5,904.5V909.5M567.9,904.5V909.5M633.2,904.5V909.5M698.6,904.5V909.5M764,904.5V909.5"/>
<path d="M900,904.5V909.5M965.5,904.5V909.5M1030.9,904.5V909.5M1096.4,904.5V909.5M1161.8,904.5V909.5M1227.3,904.5V909.5M1292.7,904.5V909.5M1358.2,904.5V909.5M1423.6,904.5V909.5M1489.1,904.5V909.5M1554.5,904.5V909.5M1620,904.5V909.5"/>
</g>

<!-- Lat labels -->
<g font-size="15" fill="#000" text-anchor="end">
<text x="32" y="275.1" textLength="31" lengthAdjust="spacingAndGlyphs">80N</text>
<text x="32" y="314.3" textLength="31" lengthAdjust="spacingAndGlyphs">70N</text>
<text x="32" y="353.4" textLength="31" lengthAdjust="spacingAndGlyphs">60N</text>
<text x="32" y="392.6" textLength="31" lengthAdjust="spacingAndGlyphs">50N</text>
<text x="32" y="431.8" textLength="31" lengthAdjust="spacingAndGlyphs">40N</text>
<text x="32" y="470.9" textLength="31" lengthAdjust="spacingAndGlyphs">30N</text>
<text x="887" y="275.1" textLength="31" lengthAdjust="spacingAndGlyphs">80N</text>
<text x="887" y="314.3" textLength="31" lengthAdjust="spacingAndGlyphs">70N</text>
<text x="887" y="353.4" textLength="31" lengthAdjust="spacingAndGlyphs">60N</text>
<text x="887" y="392.6" textLength="31" lengthAdjust="spacingAndGlyphs">50N</text>
<text x="887" y="431.8" textLength="31" lengthAdjust="spacingAndGlyphs">40N</text>
<text x="887" y="470.9" textLength="31" lengthAdjust="spacingAndGlyphs">30N</text>
<text x="32" y="694.6" textLength="31" lengthAdjust="spacingAndGlyphs">80N</text>
<text x="32" y="733.8" textLength="31" lengthAdjust="spacingAndGlyphs">70N</text>
<text x="32" y="772.9" textLength="31" lengthAdjust="spacingAndGlyphs">60N</text>
<text x="32" y="812.1" textLength="31" lengthAdjust="spacingAndGlyphs">50N</text>
<text x="32" y="851.3" textLength="31" lengthAdjust="spacingAndGlyphs">40N</text>
<text x="32" y="890.4" textLength="31" lengthAdjust="spacingAndGlyphs">30N</text>
<text x="887" y="694.6" textLength="31" lengthAdjust="spacingAndGlyphs">80N</text>
<text x="887" y="733.8" textLength="31" lengthAdjust="spacingAndGlyphs">70N</text>
<text x="887" y="772.9" textLength="31" lengthAdjust="spacingAndGlyphs">60N</text>
<text x="887" y="812.1" textLength="31" lengthAdjust="spacingAndGlyphs">50N</text>
<text x="887" y="851.3" textLength="31" lengthAdjust="spacingAndGlyphs">40N</text>
<text x="887" y="890.4" textLength="31" lengthAdjust="spacingAndGlyphs">30N</text>
</g>

<!-- Lon labels -->
<g font-size="17.5" fill="#000" text-anchor="middle">
<text x="45" y="509.5" textLength="35" lengthAdjust="spacingAndGlyphs">140E</text>
<text x="110.4" y="509.5" textLength="35" lengthAdjust="spacingAndGlyphs">160E</text>
<text x="175.7" y="509.5" textLength="29" lengthAdjust="spacingAndGlyphs">180</text>
<text x="241.1" y="509.5" textLength="42" lengthAdjust="spacingAndGlyphs">160W</text>
<text x="306.4" y="509.5" textLength="42" lengthAdjust="spacingAndGlyphs">140W</text>
<text x="371.8" y="509.5" textLength="42" lengthAdjust="spacingAndGlyphs">120W</text>
<text x="437.2" y="509.5" textLength="42" lengthAdjust="spacingAndGlyphs">100W</text>
<text x="502.5" y="509.5" textLength="33" lengthAdjust="spacingAndGlyphs">80W</text>
<text x="567.9" y="509.5" textLength="33" lengthAdjust="spacingAndGlyphs">60W</text>
<text x="633.2" y="509.5" textLength="33" lengthAdjust="spacingAndGlyphs">40W</text>
<text x="698.6" y="509.5" textLength="33" lengthAdjust="spacingAndGlyphs">20W</text>
<text x="764" y="509.5" textLength="9" lengthAdjust="spacingAndGlyphs">0</text>
<text x="900" y="509.5" textLength="35" lengthAdjust="spacingAndGlyphs">140E</text>
<text x="965.5" y="509.5" textLength="35" lengthAdjust="spacingAndGlyphs">160E</text>
<text x="1030.9" y="509.5" textLength="29" lengthAdjust="spacingAndGlyphs">180</text>
<text x="1096.4" y="509.5" textLength="42" lengthAdjust="spacingAndGlyphs">160W</text>
<text x="1161.8" y="509.5" textLength="42" lengthAdjust="spacingAndGlyphs">140W</text>
<text x="1227.3" y="509.5" textLength="42" lengthAdjust="spacingAndGlyphs">120W</text>
<text x="1292.7" y="509.5" textLength="42" lengthAdjust="spacingAndGlyphs">100W</text>
<text x="1358.2" y="509.5" textLength="33" lengthAdjust="spacingAndGlyphs">80W</text>
<text x="1423.6" y="509.5" textLength="33" lengthAdjust="spacingAndGlyphs">60W</text>
<text x="1489.1" y="509.5" textLength="33" lengthAdjust="spacingAndGlyphs">40W</text>
<text x="1554.5" y="509.5" textLength="33" lengthAdjust="spacingAndGlyphs">20W</text>
<text x="1620" y="509.5" textLength="9" lengthAdjust="spacingAndGlyphs">0</text>
<text x="45" y="929.3" textLength="35" lengthAdjust="spacingAndGlyphs">140E</text>
<text x="110.4" y="929.3" textLength="35" lengthAdjust="spacingAndGlyphs">160E</text>
<text x="175.7" y="929.3" textLength="29" lengthAdjust="spacingAndGlyphs">180</text>
<text x="241.1" y="929.3" textLength="42" lengthAdjust="spacingAndGlyphs">160W</text>
<text x="306.4" y="929.3" textLength="42" lengthAdjust="spacingAndGlyphs">140W</text>
<text x="371.8" y="929.3" textLength="42" lengthAdjust="spacingAndGlyphs">120W</text>
<text x="437.2" y="929.3" textLength="42" lengthAdjust="spacingAndGlyphs">100W</text>
<text x="502.5" y="929.3" textLength="33" lengthAdjust="spacingAndGlyphs">80W</text>
<text x="567.9" y="929.3" textLength="33" lengthAdjust="spacingAndGlyphs">60W</text>
<text x="633.2" y="929.3" textLength="33" lengthAdjust="spacingAndGlyphs">40W</text>
<text x="698.6" y="929.3" textLength="33" lengthAdjust="spacingAndGlyphs">20W</text>
<text x="764" y="929.3" textLength="9" lengthAdjust="spacingAndGlyphs">0</text>
<text x="900" y="929.3" textLength="35" lengthAdjust="spacingAndGlyphs">140E</text>
<text x="965.5" y="929.3" textLength="35" lengthAdjust="spacingAndGlyphs">160E</text>
<text x="1030.9" y="929.3" textLength="29" lengthAdjust="spacingAndGlyphs">180</text>
<text x="1096.4" y="929.3" textLength="42" lengthAdjust="spacingAndGlyphs">160W</text>
<text x="1161.8" y="929.3" textLength="42" lengthAdjust="spacingAndGlyphs">140W</text>
<text x="1227.3" y="929.3" textLength="42" lengthAdjust="spacingAndGlyphs">120W</text>
<text x="1292.7" y="929.3" textLength="42" lengthAdjust="spacingAndGlyphs">100W</text>
<text x="1358.2" y="929.3" textLength="33" lengthAdjust="spacingAndGlyphs">80W</text>
<text x="1423.6" y="929.3" textLength="33" lengthAdjust="spacingAndGlyphs">60W</text>
<text x="1489.1" y="929.3" textLength="33" lengthAdjust="spacingAndGlyphs">40W</text>
<text x="1554.5" y="929.3" textLength="33" lengthAdjust="spacingAndGlyphs">20W</text>
<text x="1620" y="929.3" textLength="9" lengthAdjust="spacingAndGlyphs">0</text>
</g>

<!-- Colorbar 1 -->
<g>
<polygon points="795.3,250 812.7,250 804,209" fill="#ffe4e4"/>
<rect x="795.3" y="250" width="17.4" height="39" fill="#f0a0a0"/>
<rect x="795.3" y="289" width="17.4" height="39.3" fill="#a50000"/>
<rect x="795.3" y="328.3" width="17.4" height="40" fill="#e11400"/>
<rect x="795.3" y="368.3" width="17.4" height="40" fill="#ff6000"/>
<rect x="795.3" y="408.3" width="17.4" height="40" fill="#ffa000"/>
<rect x="795.3" y="448.3" width="17.4" height="39" fill="#ffe680"/>
<g stroke="#000" stroke-width="1" fill="none">
<path d="M795.3,250 L804,209 M795.3,487.3 L803.3,527 M795.3,250 V487.3"/>
<path d="M795.3,289H812.7M795.3,328.3H812.7M795.3,368.3H812.7M795.3,408.3H812.7M795.3,448.3H812.7M795.3,487.3H812.7"/>
</g>
</g>
<g font-size="14" fill="#000">
<text x="817.7" y="255" textLength="26" lengthAdjust="spacingAndGlyphs">220</text>
<text x="817.7" y="294" textLength="26" lengthAdjust="spacingAndGlyphs">190</text>
<text x="817.7" y="333.3" textLength="26" lengthAdjust="spacingAndGlyphs">160</text>
<text x="817.7" y="373.3" textLength="26" lengthAdjust="spacingAndGlyphs">130</text>
<text x="817.7" y="413.3" textLength="26" lengthAdjust="spacingAndGlyphs">100</text>
<text x="817.7" y="453.3" textLength="17.5" lengthAdjust="spacingAndGlyphs">70</text>
<text x="817.7" y="492.3" textLength="17.5" lengthAdjust="spacingAndGlyphs">40</text>
</g>

<!-- Colorbar 2 -->
<g>
<polygon points="795.3,609.3 812.7,609.3 804,569.3" fill="#a50000"/>
<rect x="795.3" y="609.3" width="17.4" height="40" fill="#e11400"/>
<rect x="795.3" y="649.3" width="17.4" height="40" fill="#ff6000"/>
<rect x="795.3" y="689.3" width="17.4" height="39.7" fill="#ffa000"/>
<rect x="795.3" y="729" width="17.4" height="39.7" fill="#ffc13c"/>
<rect x="795.3" y="768.7" width="17.4" height="39.6" fill="#fffaaa"/>
<rect x="795.3" y="808.3" width="17.4" height="39.7" fill="#ffffff"/>
<rect x="795.3" y="848" width="17.4" height="39.7" fill="#e1ffff"/>
<rect x="795.3" y="887.7" width="17.4" height="39.6" fill="#96d2fa"/>
<rect x="795.3" y="927.3" width="17.4" height="40" fill="#2882f0"/>
<polygon points="795.3,967.3 812.7,967.3 804,1006.7" fill="#1e6ed2"/>
<g stroke="#000" stroke-width="1" fill="none">
<path d="M795.3,609.3 V967.3"/>
<path d="M795.3,649.3H812.7M795.3,689.3H812.7M795.3,729H812.7M795.3,768.7H812.7M795.3,808.3H812.7M795.3,848H812.7M795.3,887.7H812.7M795.3,927.3H812.7M795.3,967.3H812.7"/>
</g>
</g>
<g font-size="14" fill="#000">
<text x="817.7" y="614.3" textLength="17.5" lengthAdjust="spacingAndGlyphs">60</text>
<text x="817.7" y="654.3" textLength="17.5" lengthAdjust="spacingAndGlyphs">50</text>
<text x="817.7" y="694.3" textLength="17.5" lengthAdjust="spacingAndGlyphs">40</text>
<text x="817.7" y="734" textLength="17.5" lengthAdjust="spacingAndGlyphs">30</text>
<text x="817.7" y="773.7" textLength="17.5" lengthAdjust="spacingAndGlyphs">20</text>
<text x="817.7" y="813.3" textLength="17.5" lengthAdjust="spacingAndGlyphs">10</text>
<text x="817.7" y="853" textLength="30" lengthAdjust="spacingAndGlyphs">−10</text>
<text x="817.7" y="892.7" textLength="30" lengthAdjust="spacingAndGlyphs">−20</text>
<text x="817.7" y="932.3" textLength="30" lengthAdjust="spacingAndGlyphs">−30</text>
<text x="817.7" y="972.3" textLength="30" lengthAdjust="spacingAndGlyphs">−40</text>
</g>
</svg>
</body></html>
